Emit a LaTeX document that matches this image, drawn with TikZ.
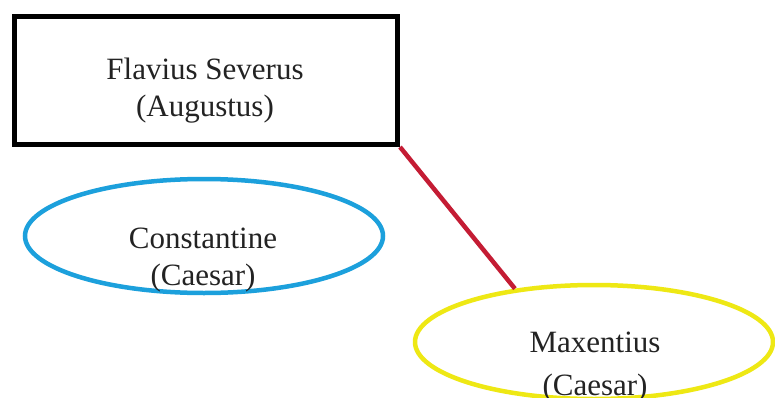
\documentclass[tikz,border=0pt]{standalone}
\usepackage{fontspec}
\setmainfont{Liberation Serif}
\usetikzlibrary{shapes.geometric}
\definecolor{eblue}{RGB}{28,160,220}
\definecolor{eyellow}{RGB}{238,232,20}
\definecolor{ered}{RGB}{196,28,52}
\definecolor{etext}{RGB}{35,35,35}
\begin{document}
\begin{tikzpicture}[x=1pt,y=1pt,
  box/.style={draw=black,line width=5pt,minimum width=383pt,minimum height=128pt,inner sep=0pt},
  oval/.style={ellipse,line width=4.5pt,minimum width=358pt,minimum height=114pt,inner sep=0pt},
  lbl/.style={text=etext,align=center,font=\fontsize{31}{37}\selectfont,inner sep=0pt}]
\useasboundingbox (0,0) rectangle (775,397);
\fill[white] (0,0) rectangle (775,397);
\node[box] (sev) at (206,316.5) {};
\node[oval,draw=eblue] (con) at (204,161) {};
\node[oval,draw=eyellow] (max) at (594,55) {};
\draw[ered,line width=4.5pt] (sev.south east) -- (max.146.5);
\node[lbl] (sevt) at (205,306) {Flavius Severus\\(Augustus)};
\node[lbl] (cont) at (203,137) {Constantine\\(Caesar)};
\node[lbl,font=\fontsize{31}{43}\selectfont] (maxt) at (595,30) {Maxentius\\(Caesar)};
\end{tikzpicture}
\end{document}
